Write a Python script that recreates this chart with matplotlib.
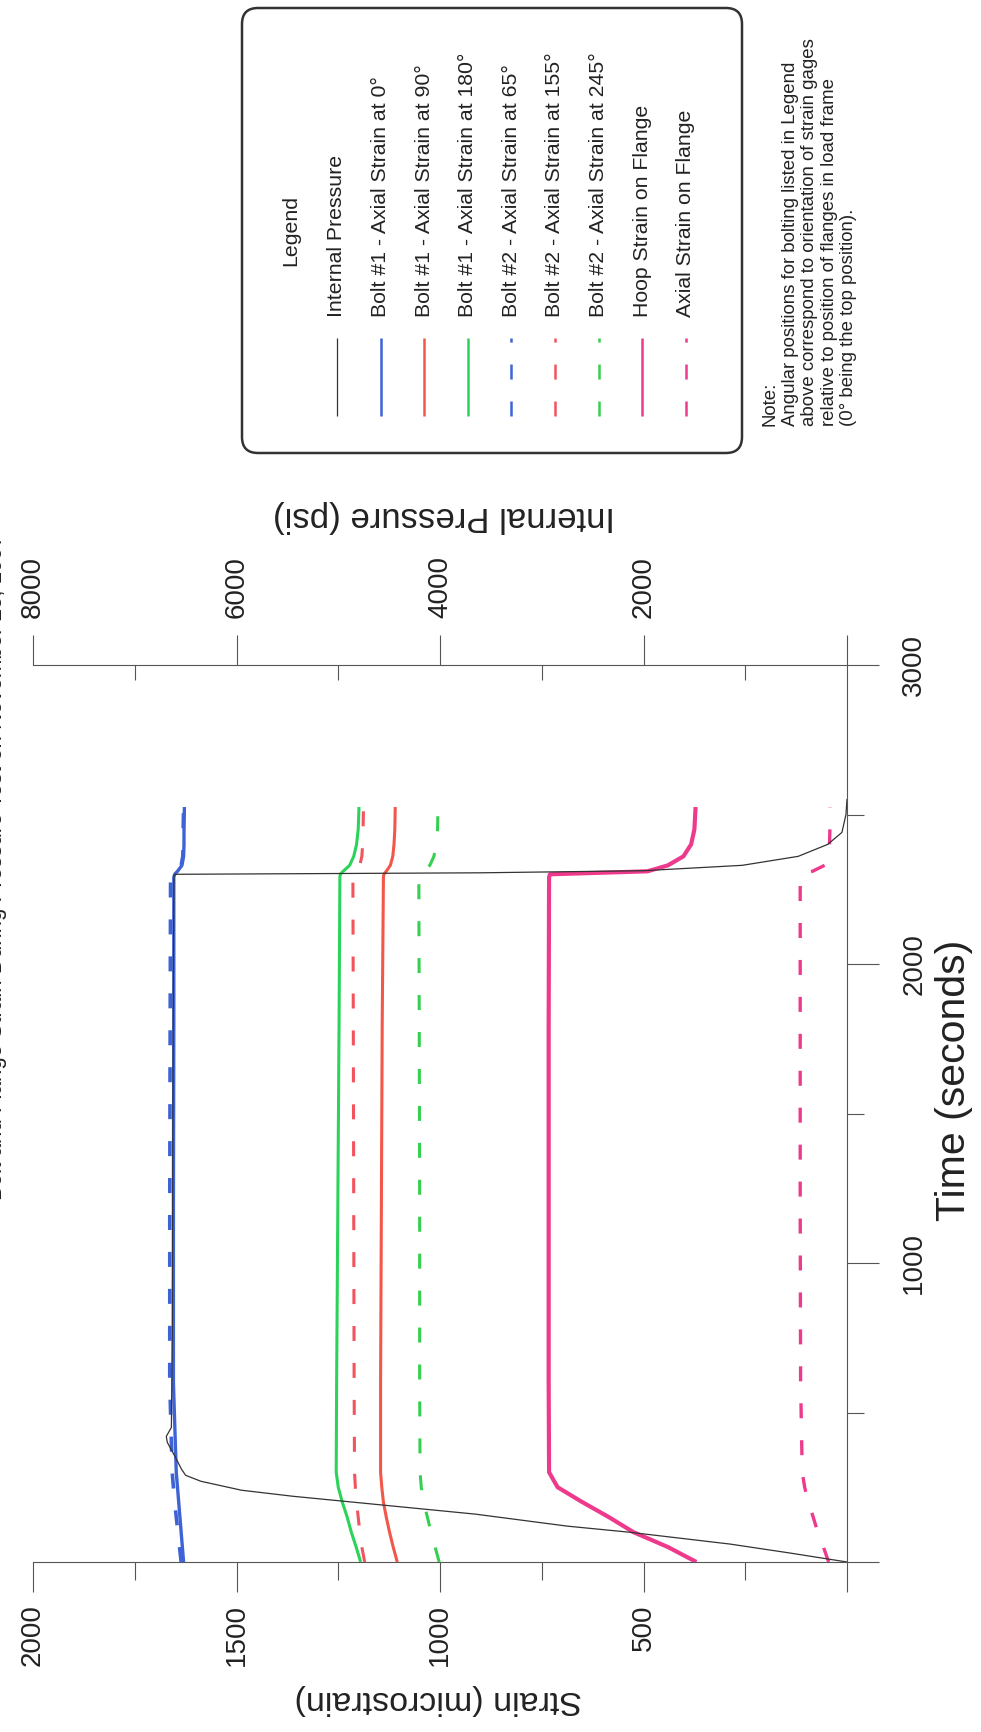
import matplotlib
matplotlib.use("Agg")
import matplotlib.pyplot as plt
from matplotlib.lines import Line2D
from matplotlib.patches import FancyBboxPatch
from matplotlib.transforms import Affine2D

plt.rcParams["font.family"] = ["Liberation Sans", "DejaVu Sans"]

# ---- data ----
# strain gages share one time base (seconds)
t_gage = [0, 50, 100, 150, 200, 250, 300, 600, 1200, 1800, 2290, 2300, 2310, 2330, 2360, 2400, 2450, 2525]
bolt1_0 = [1630, 1633, 1636, 1639, 1642, 1645, 1648, 1655, 1655, 1654, 1654, 1652, 1645, 1634, 1630, 1629, 1629, 1628]
bolt1_90 = [1105, 1115, 1124, 1132, 1139, 1143, 1146, 1146, 1144, 1142, 1139, 1138, 1132, 1122, 1116, 1113, 1111, 1110]
bolt1_180 = [1195, 1206, 1218, 1228, 1240, 1250, 1255, 1254, 1251, 1248, 1246, 1245, 1238, 1222, 1212, 1205, 1201, 1199]
bolt2_65 = [1636, 1640, 1644, 1648, 1652, 1655, 1658, 1664, 1664, 1663, 1662, 1660, 1650, 1636, 1632, 1631, 1631, 1630]
bolt2_155 = [1185, 1192, 1197, 1201, 1205, 1208, 1210, 1211, 1212, 1213, 1214, 1213, 1205, 1197, 1192, 1190, 1189, 1188]
bolt2_245 = [1002, 1012, 1022, 1031, 1040, 1046, 1049, 1050, 1050, 1051, 1052, 1050, 1040, 1025, 1015, 1009, 1006, 1005]
hoop_flange = [370, 440, 525, 585, 650, 711, 732, 733, 733, 733, 732, 730, 490, 440, 402, 383, 375, 372]
axial_flange = [45, 58, 72, 83, 95, 104, 110, 114, 115, 115, 115, 112, 85, 55, 45, 43, 42, 42]

# internal pressure (psi) on its own time base
t_press = [0, 30, 60, 100, 120, 160, 190, 220, 240, 270, 290, 310, 350, 400, 420, 450,
           800, 1500, 2000, 2295, 2300, 2305, 2312, 2330, 2360, 2400, 2440, 2500, 2550]
pressure = [0, 560, 1150, 2150, 2750, 3650, 4550, 5450, 5950, 6350, 6500, 6540, 6600, 6680, 6690, 6640,
            6630, 6625, 6620, 6615, 6600, 3600, 2000, 1030, 480, 190, 50, 10, 0]

strain_ticks = [0, 500, 1000, 1500, 2000]
strain_minor = [250, 750, 1250, 1750]
time_ticks = [0, 1000, 2000, 3000]
time_minor = [500, 1500, 2500]
press_ticks = [0, 2000, 4000, 6000, 8000]
press_minor = [1000, 3000, 5000, 7000]

legend_labels = [
    "Internal Pressure",
    "Bolt #1 - Axial Strain at 0°",
    "Bolt #1 - Axial Strain at 90°",
    "Bolt #1 - Axial Strain at 180°",
    "Bolt #2 - Axial Strain at 65°",
    "Bolt #2 - Axial Strain at 155°",
    "Bolt #2 - Axial Strain at 245°",
    "Hoop Strain on Flange",
    "Axial Strain on Flange",
]

# ---- styles ----
INK = "#222222"
AXIS = "#555555"
BLUE = "#3d63d6"
RED = "#f2574a"
GREEN = "#2bd35a"
RED2 = "#f2545e"
GREEN2 = "#36cf50"
MAGENTA = "#ee3a8c"
BLACK = "#333333"

# (values, color, lw, dashed) in legend order after pressure
strain_series = [
    (bolt1_0, BLUE, 2.4, False),
    (bolt1_90, RED, 2.2, False),
    (bolt1_180, GREEN, 2.2, False),
    (bolt2_65, BLUE, 2.6, True),
    (bolt2_155, RED2, 2.2, True),
    (bolt2_245, GREEN2, 2.2, True),
    (hoop_flange, MAGENTA, 3.0, False),
    (axial_flange, MAGENTA, 2.4, True),
]


def dash_for(lw):
    # ~15 px on, ~22 px off
    return (10.8 / lw, 15.8 / lw)


W, H = 981, 1732
fig = plt.figure(figsize=(W / 100, H / 100), dpi=100)
fig.patch.set_facecolor("white")
PX = Affine2D().scale(0.01) + fig.dpi_scale_trans  # pixel coords, origin bottom-left


def py(y):
    return H - y


# plot area: strain runs right->left, time runs bottom->top (page is turned)
x_l, x_r, y_t, y_b = 33, 847, 665, 1562
ax = fig.add_axes([x_l / W, (H - y_b) / H, (x_r - x_l) / W, (y_b - y_t) / H])
ax.set_xlim(2000, 0)
ax.set_ylim(0, 3000)
ax.patch.set_alpha(0)

for vals, color, lw, dashed in strain_series:
    line, = ax.plot(vals, t_gage, color=color, lw=lw, solid_capstyle="butt", zorder=3)
    if dashed:
        line.set_dashes(dash_for(lw))

ax2 = ax.twiny()
ax2.set_xlim(8000, 0)
ax2.patch.set_alpha(0)
ax2.plot(pressure, t_press, color=BLACK, lw=0.9, zorder=4)

for a in (ax, ax2):
    for s in a.spines.values():
        s.set_visible(False)
        s.set_color(AXIS)
        s.set_linewidth(0.8)
ax.spines["bottom"].set_visible(True)
ax.spines["right"].set_visible(True)
ax2.spines["top"].set_visible(True)

# strain axis (bottom)
ax.set_xticks(strain_ticks, labels=[""] + [str(v) for v in strain_ticks[1:]])
ax.set_xticks(strain_minor, minor=True)
ax.tick_params(axis="x", which="major", direction="out", length=21.5, width=0.8, color=AXIS,
               labelsize=20, labelcolor=INK, labelrotation=90, pad=9)
ax.tick_params(axis="x", which="minor", direction="out", length=13, width=0.8, color=AXIS)

# time axis (right)
ax.yaxis.tick_right()
ax.set_yticks(time_ticks, labels=[""] + [str(v) for v in time_ticks[1:]])
ax.set_yticks(time_minor, minor=True)
ax.tick_params(axis="y", which="major", direction="out", length=23, width=0.8, color=AXIS,
               labelsize=20, labelcolor=INK, labelrotation=90, pad=16)
ax.tick_params(axis="y", which="minor", direction="out", length=12, width=0.8, color=AXIS)
for lbl in ax.get_yticklabels():
    lbl.set_va("center")

# pressure axis (top)
ax2.set_xticks(press_ticks, labels=[""] + [str(v) for v in press_ticks[1:]])
ax2.set_xticks(press_minor, minor=True)
ax2.tick_params(axis="x", which="major", direction="out", length=21.5, width=0.8, color=AXIS,
                labelsize=20, labelcolor=INK, labelrotation=90, pad=12)
ax2.tick_params(axis="x", which="minor", direction="in", length=11, width=0.8, color=AXIS)
ax2.tick_params(axis="y", left=False, right=False, labelleft=False, labelright=False)

# axis titles
fig.text(438, py(1700), "Strain (microstrain)", transform=PX, rotation=180,
         ha="center", va="center", fontsize=24.5, color=INK)
fig.text(444, py(517), "Internal Pressure (psi)", transform=PX, rotation=180,
         ha="center", va="center", fontsize=25, color=INK)
fig.text(954, py(1080), "Time (seconds)", transform=PX, rotation=90,
         ha="center", va="center", fontsize=29.5, color=INK)

# chart title, cut by the page edge in the scan
fig.text(-3, py(1200), "Bolt and Flange Strain During Pressure Test on November 25, 1997",
         transform=PX, rotation=90, ha="center", va="bottom", fontsize=16, color=INK)

# ---- legend box ----
box = FancyBboxPatch((242, py(453)), 500, 445, boxstyle="round,pad=0,rounding_size=16",
                     transform=PX, facecolor="white", edgecolor="#333333", lw=1.8)
fig.add_artist(box)
fig.text(291, py(230), "Legend", transform=PX, rotation=90, ha="center", va="center",
         fontsize=15.3, color=INK)

legend_styles = [(BLACK, 0.9, False)] + [(c, 1.8, d) for _, c, _, d in strain_series]
for i, (label, (color, lw, dashed)) in enumerate(zip(legend_labels, legend_styles)):
    x = 337 + 43.6 * i
    ln = Line2D([x, x], [py(416), py(338)], transform=PX, color=color, lw=lw,
                solid_capstyle="butt")
    if dashed:
        ln.set_dashes(dash_for(lw))
    fig.add_artist(ln)
    fig.text(x, py(317), label, transform=PX, rotation=90, ha="center", va="bottom",
             fontsize=15.3, color=INK)

note = ("Note:\n"
        "Angular positions for bolting listed in Legend\n"
        "above correspond to orientation of strain gages\n"
        "relative to position of flanges in load frame\n"
        "(0° being the top position).")
fig.text(762, py(426), note, transform=PX, rotation=90, ha="left", va="bottom",
         multialignment="left", fontsize=13.4, color=INK, linespacing=1.2)

fig.savefig("out.png", dpi=100, facecolor="white")
